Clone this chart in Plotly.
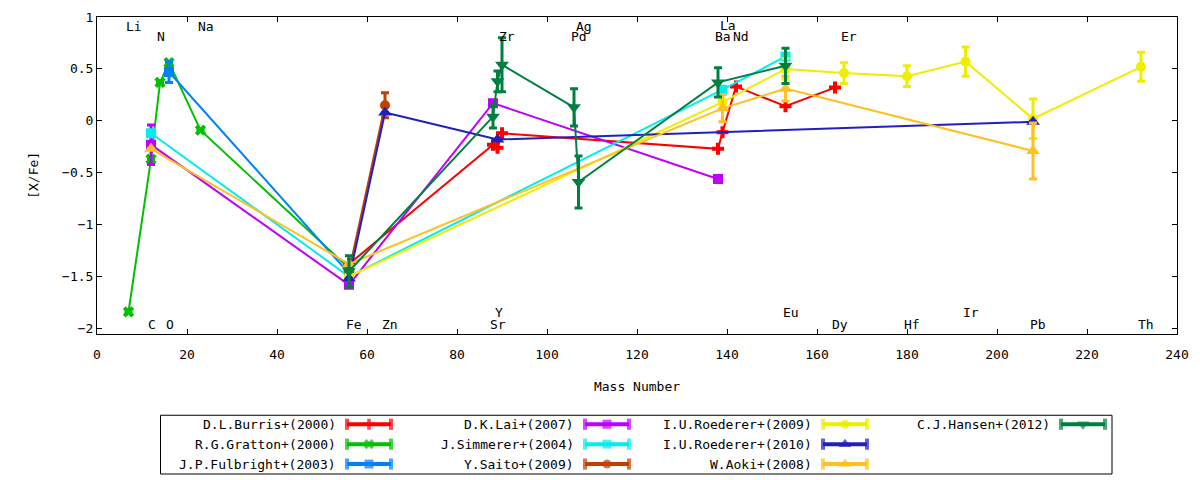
import plotly.graph_objects as go

# element labels: mass number and label height
elem_names = ["Li", "N", "Na", "C", "O", "Fe", "Zn", "Y", "Sr", "Zr", "Ag", "Pd",
              "La", "Ba", "Nd", "Er", "Eu", "Dy", "Hf", "Ir", "Pb", "Th"]
elem_mass = [7, 14, 23, 12, 16, 56, 64, 89, 88, 90, 107, 106,
             139, 138, 142, 166, 153, 164, 180, 193, 208, 232]
elem_ypos = [0.91, 0.81, 0.91, -1.96, -1.96, -1.96, -1.96, -1.85, -1.96, 0.81, 0.91, 0.81,
             0.92, 0.81, 0.81, 0.81, -1.85, -1.96, -1.96, -1.85, -1.96, -1.96]

names = ["D.L.Burris+(2000)", "R.G.Gratton+(2000)", "J.P.Fulbright+(2003)",
         "D.K.Lai+(2007)", "J.Simmerer+(2004)", "Y.Saito+(2009)",
         "I.U.Roederer+(2009)", "I.U.Roederer+(2010)", "W.Aoki+(2008)",
         "C.J.Hansen+(2012)"]

burris_x = [56, 88, 89, 90, 138, 139, 142, 153, 164]
burris_y = [-1.38, -0.23, -0.26, -0.12, -0.27, -0.11, 0.33, 0.14, 0.32]
burris_e = [None] * 9

gratton_x = [7, 12, 14, 16, 23, 56]
gratton_y = [-1.84, -0.37, 0.37, 0.56, -0.09, -1.42]
gratton_e = [None] * 6

fulbright_x = [16, 56]
fulbright_y = [0.47, -1.47]
fulbright_e = [0.1, None]

lai_x = [12, 56, 88, 138]
lai_y = [-0.23, -1.58, 0.17, -0.56]
lai_e = [0.19, None, None, None]

simmerer_x = [12, 56, 139, 153]
simmerer_y = [-0.12, -1.5, 0.30, 0.62]
simmerer_e = [None] * 4

saito_x = [56, 64]
saito_y = [-1.45, 0.15]
saito_e = [None, 0.12]

roed09_x = [56, 139, 153, 166, 180, 193, 208, 232]
roed09_y = [-1.5, 0.18, 0.50, 0.46, 0.43, 0.57, 0.02, 0.52]
roed09_e = [None, None, 0.1, 0.1, 0.1, 0.14, 0.19, 0.14]

roed10_x = [56, 64, 89, 208]
roed10_y = [-1.52, 0.08, -0.18, -0.01]
roed10_e = [None] * 4

aoki_x = [12, 56, 139, 153, 208]
aoki_y = [-0.27, -1.38, 0.12, 0.31, -0.29]
aoki_e = [None, None, 0.13, 0.12, 0.27]

hansen_x = [56, 88, 89, 90, 106, 107, 138, 153]
hansen_y = [-1.45, 0.04, 0.38, 0.54, 0.13, -0.59, 0.37, 0.53]
hansen_e = [0.15, 0.11, 0.1, 0.26, 0.18, 0.25, 0.14, 0.17]

series = [(burris_x, burris_y, burris_e), (gratton_x, gratton_y, gratton_e),
          (fulbright_x, fulbright_y, fulbright_e), (lai_x, lai_y, lai_e),
          (simmerer_x, simmerer_y, simmerer_e), (saito_x, saito_y, saito_e),
          (roed09_x, roed09_y, roed09_e), (roed10_x, roed10_y, roed10_e),
          (aoki_x, aoki_y, aoki_e), (hansen_x, hansen_y, hansen_e)]

colors = ["#ff0000", "#00c000", "#0080ff", "#c000ff", "#00eeee", "#c04000",
          "#eeee00", "#2020c0", "#ffc020", "#008040"]
symbols = ["cross", "x", "square", "square", "square", "circle",
           "circle", "triangle-up", "triangle-up", "triangle-down"]
sizes = [10, 10, 10, 10, 10, 10, 10, 12, 12, 12]

font = "DejaVu Sans Mono"

fig = go.Figure()

for i, (xs, ys, es) in enumerate(series):
    fig.add_trace(go.Scatter(
        x=xs, y=ys, mode="lines+markers", name=names[i], showlegend=False,
        line=dict(color=colors[i], width=2),
        marker=dict(symbol=symbols[i], size=sizes[i], color=colors[i]),
        error_y=dict(type="data", array=es, visible=True, color=colors[i],
                     thickness=3, width=4),
    ))

# hand-made legend in pixel coordinates (gnuplot style: text, then sample)
for i in range(len(names)):
    col, row = i // 3, i % 3
    tx = 338 + col * 238
    ty = 426 + row * 20
    x0, x1 = tx + 9, tx + 53
    fig.add_trace(go.Scatter(
        x=[x0, (x0 + x1) / 2, x1], y=[ty, ty, ty], xaxis="x2", yaxis="y2",
        mode="lines+markers", showlegend=False, hoverinfo="skip",
        line=dict(color=colors[i], width=4),
        marker=dict(symbol=["line-ns", symbols[i], "line-ns"],
                    size=[8, sizes[i] - 1, 8],
                    color=colors[i], line=dict(color=colors[i], width=[4, 0, 4])),
    ))
    fig.add_annotation(x=tx, y=ty, xref="x2", yref="y2", text=names[i],
                       showarrow=False, xanchor="right", yanchor="middle",
                       font=dict(family=font, size=13, color="black"))

fig.add_shape(type="rect", xref="x2", yref="y2", x0=160.5, x1=1112, y0=417, y1=476,
              line=dict(color="black", width=1))

for n, m, yp in zip(elem_names, elem_mass, elem_ypos):
    fig.add_annotation(x=m, y=yp, text=n, showarrow=False, xanchor="left",
                       yanchor="middle", xshift=-5,
                       font=dict(family=font, size=13, color="black"))

axis_common = dict(showline=True, linecolor="black", linewidth=1, mirror="allticks",
                   ticks="inside", ticklen=5, tickcolor="black", showgrid=False,
                   zeroline=False, tickfont=dict(family=font, size=13, color="black"))
title_font = dict(family=font, size=13, color="black")

fig.update_layout(
    width=1200, height=480,
    margin=dict(l=97, r=23, t=17, b=2),
    paper_bgcolor="white", plot_bgcolor="rgba(0,0,0,0)",
    font=dict(family=font, size=13, color="black"),
    xaxis=dict(range=[0, 240], dtick=20, anchor="y", ticklabelstandoff=9,
               title=dict(text="Mass Number", standoff=20, font=title_font),
               **axis_common),
    yaxis=dict(range=[-2.05, 1], dtick=0.5, domain=[(478 - 335) / 461, 1], anchor="x",
               title=dict(text="[X/Fe]", standoff=20, font=title_font), **axis_common),
    xaxis2=dict(range=[97, 1177], domain=[0, 1], anchor="y2", visible=False),
    yaxis2=dict(range=[478, 17], domain=[0, 1], anchor="x2", visible=False),
)

fig.write_html("out.html", config={"displayModeBar": False},
               post_script="document.body.style.margin='0px';")
